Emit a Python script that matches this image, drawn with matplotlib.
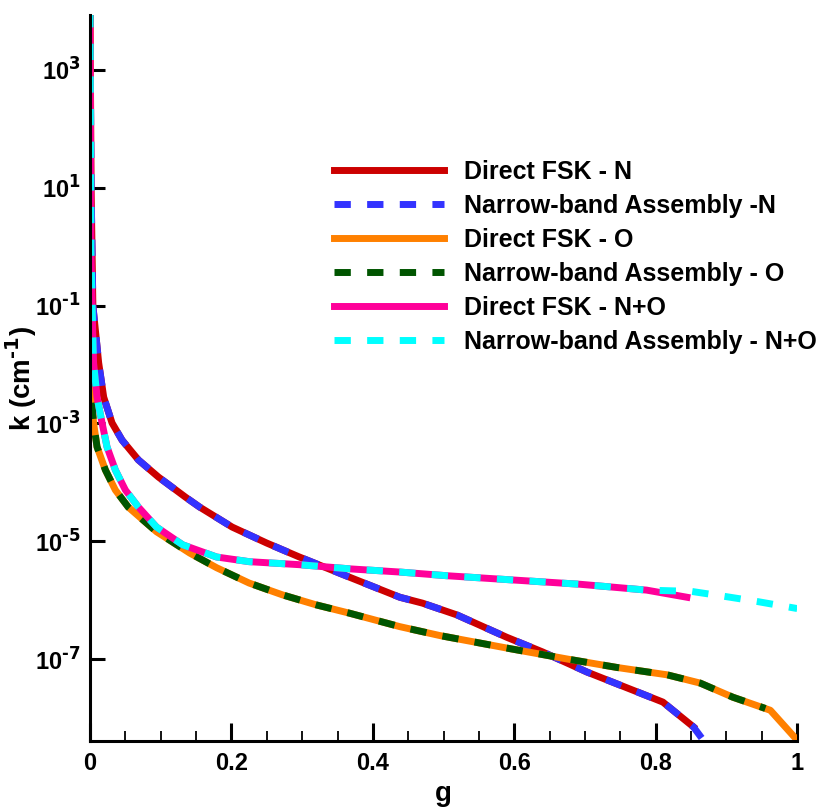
import matplotlib
matplotlib.use("Agg")
import matplotlib.pyplot as plt
import numpy as np
from matplotlib.ticker import FixedLocator, MultipleLocator, FuncFormatter

plt.rcParams['font.family'] = ['Liberation Sans', 'DejaVu Sans']
plt.rcParams['font.weight'] = 'bold'

# ---- data ----
g_N = [0.000, 0.0015, 0.004, 0.0075, 0.0122, 0.0193, 0.0311, 0.0453, 0.0684, 0.0967, 0.135, 0.155,
       0.201, 0.250, 0.296, 0.367, 0.438, 0.470, 0.519, 0.589, 0.640, 0.703, 0.768, 0.810, 0.853]
k_N = [1e4, 1e1, 1e-1, 3.9e-2, 1.07e-2, 2.8e-3, 1.02e-3, 5.2e-4, 2.4e-4, 1.23e-4, 5.6e-5, 3.8e-5,
       1.74e-5, 9.3e-6, 5.4e-6, 2.45e-6, 1.12e-6, 8.9e-7, 5.6e-7, 2.35e-7, 1.32e-7, 6.0e-8, 2.95e-8,
       1.86e-8, 7.1e-9]
g_N_nb = [0.000, 0.0015, 0.004, 0.0075, 0.0122, 0.0193, 0.0311, 0.0453, 0.0684, 0.0967, 0.135, 0.155,
          0.201, 0.250, 0.296, 0.367, 0.438, 0.470, 0.519, 0.589, 0.640, 0.703, 0.768, 0.810, 0.853, 0.872]
k_N_nb = [1e4, 1e1, 1e-1, 3.9e-2, 1.07e-2, 2.8e-3, 1.02e-3, 5.2e-4, 2.4e-4, 1.23e-4, 5.6e-5, 3.8e-5,
          1.74e-5, 9.3e-6, 5.4e-6, 2.45e-6, 1.12e-6, 8.9e-7, 5.6e-7, 2.35e-7, 1.32e-7, 6.0e-8, 2.95e-8,
          1.86e-8, 7.1e-9, 3.5e-9]

g_O = [0.000, 0.0008, 0.0018, 0.005, 0.0099, 0.0217, 0.0358, 0.054, 0.094, 0.141, 0.179, 0.225, 0.272,
       0.320, 0.367, 0.438, 0.495, 0.594, 0.675, 0.745, 0.816, 0.863, 0.909, 0.962, 1.000]
k_O = [1e4, 1e-1, 2.8e-3, 1.02e-3, 4.0e-4, 1.62e-4, 7.4e-5, 3.8e-5, 1.45e-5, 6.3e-6, 3.55e-6, 1.95e-6,
       1.23e-6, 8.3e-7, 6.0e-7, 3.55e-7, 2.5e-7, 1.5e-7, 1.0e-7, 7.2e-8, 5.4e-8, 3.9e-8, 2.25e-8,
       1.35e-8, 4.2e-9]
g_O_nb = [0.000, 0.0008, 0.0018, 0.005, 0.0099, 0.0217, 0.0358, 0.054, 0.094, 0.141, 0.179, 0.225, 0.272,
          0.320, 0.367, 0.438, 0.495, 0.594, 0.675, 0.745, 0.816, 0.863, 0.909, 0.955]
k_O_nb = [1e4, 1e-1, 2.8e-3, 1.02e-3, 4.0e-4, 1.62e-4, 7.4e-5, 3.8e-5, 1.45e-5, 6.3e-6, 3.55e-6, 1.95e-6,
          1.23e-6, 8.3e-7, 6.0e-7, 3.55e-7, 2.5e-7, 1.5e-7, 1.0e-7, 7.2e-8, 5.4e-8, 3.9e-8, 2.25e-8,
          1.45e-8]

g_NO = [0.000, 0.0012, 0.0037, 0.005, 0.0099, 0.017, 0.024, 0.0358, 0.050, 0.0684, 0.094, 0.131, 0.179,
        0.225, 0.296, 0.367, 0.438, 0.504, 0.598, 0.693, 0.787, 0.844]
k_NO = [1e4, 1e0, 3.9e-2, 1.07e-2, 2.8e-3, 1.02e-3, 4.0e-4, 1.62e-4, 7.4e-5, 3.8e-5, 1.74e-5, 8.7e-6,
        5.4e-6, 4.5e-6, 4.0e-6, 3.4e-6, 3.0e-6, 2.6e-6, 2.2e-6, 1.86e-6, 1.48e-6, 1.12e-6]
g_NO_nb = [0.000, 0.0012, 0.0037, 0.005, 0.0099, 0.017, 0.024, 0.0358, 0.050, 0.0684, 0.094, 0.131, 0.179,
           0.225, 0.296, 0.367, 0.438, 0.504, 0.598, 0.693, 0.787, 0.850, 0.895, 0.943, 1.000]
k_NO_nb = [1e4, 1e0, 3.9e-2, 1.07e-2, 2.8e-3, 1.02e-3, 4.0e-4, 1.62e-4, 7.4e-5, 3.8e-5, 1.74e-5, 8.7e-6,
           5.4e-6, 4.5e-6, 4.0e-6, 3.4e-6, 3.0e-6, 2.6e-6, 2.2e-6, 1.86e-6, 1.48e-6, 1.41e-6, 1.17e-6,
           9.5e-7, 7.2e-7]

labels = ["Direct FSK - N", "Narrow-band Assembly -N", "Direct FSK - O",
          "Narrow-band Assembly - O", "Direct FSK - N+O", "Narrow-band Assembly - N+O"]
x_ticks = [0, 0.2, 0.4, 0.6, 0.8, 1]
x_ticklabels = ['0', '0.2', '0.4', '0.6', '0.8', '1']
y_ticks = [1e-7, 1e-5, 1e-3, 1e-1, 1e1, 1e3]

fig = plt.figure(figsize=(8.2, 8.09), dpi=100)
ax = fig.add_axes([0.1098, 0.084, 0.8624, 0.8975])

lw = 5.0
dash = (2.35, 2.35)
ax.plot(g_N, k_N, color='#CC0000', lw=lw, label=labels[0])
ax.plot(g_N_nb, k_N_nb, color='#3333FF', lw=lw, dashes=dash, label=labels[1])
ax.plot(g_O, k_O, color='#FF8000', lw=lw, label=labels[2])
ax.plot(g_O_nb, k_O_nb, color='#005500', lw=lw, dashes=dash, label=labels[3])
ax.plot(g_NO, k_NO, color='#FF0099', lw=lw, label=labels[4])
ax.plot(g_NO_nb, k_NO_nb, color='#00FFFF', lw=lw, dashes=dash, label=labels[5])

ax.set_yscale('log')
ax.set_xlim(0, 1)
ax.set_ylim(10**-8.392, 10**3.934)

ax.spines['top'].set_visible(False)
ax.spines['right'].set_visible(False)
for s in ['left', 'bottom']:
    ax.spines[s].set_linewidth(2.2)


def log_fmt(v, pos):
    e = int(round(np.log10(v)))
    if e < 0:
        return r'10$^{\text{-}%d}$' % (-e)
    return r'10$^{%d}$' % e


ax.xaxis.set_major_locator(FixedLocator(x_ticks))
ax.xaxis.set_minor_locator(MultipleLocator(0.05))
ax.set_xticklabels(x_ticklabels)
ax.yaxis.set_major_locator(FixedLocator(y_ticks))
ax.yaxis.set_minor_locator(FixedLocator([]))
ax.yaxis.set_major_formatter(FuncFormatter(log_fmt))

ax.tick_params(axis='both', which='major', direction='in', width=2.2, labelsize=17, pad=8)
ax.tick_params(axis='x', which='major', length=13)
ax.tick_params(axis='y', which='major', length=10.5, pad=7)
ax.tick_params(axis='x', which='minor', direction='in', width=1.3, length=7.5)
ax.tick_params(top=False, right=False)

ax.set_xlabel('g', fontsize=20, fontweight='bold', labelpad=4)
ax.set_ylabel(r'k (cm$^{\text{-}1}$)', fontsize=20, fontweight='bold')
ax.yaxis.set_label_coords(-0.072, 0.5)

leg = ax.legend(loc='upper left', bbox_to_anchor=(0.345, 0.80), frameon=False,
                fontsize=18, handlelength=4.4, handletextpad=0.8, labelspacing=0.4,
                borderaxespad=0, borderpad=0)

fig.savefig('out.png', dpi=100)
